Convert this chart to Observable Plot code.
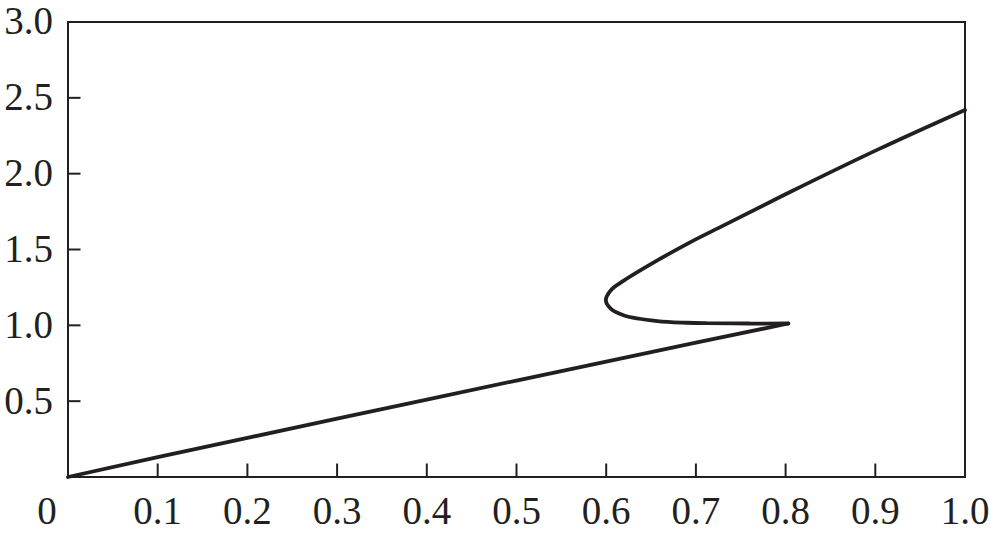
<!DOCTYPE html>
<html>
<head>
<meta charset="utf-8">
<script src="https://cdn.jsdelivr.net/npm/d3@7"></script>
<script src="https://cdn.jsdelivr.net/npm/@observablehq/plot@0.6"></script>
<style>
  html, body { margin: 0; padding: 0; background: #fff; }
</style>
</head>
<body>
<div id="chart"></div>
<script>
// Lower branch (straight rise up to the fold tip)
const lowerX = [0, 0.1, 0.2, 0.3, 0.4, 0.5, 0.6, 0.7, 0.803];
const lowerY = [0, 0.131, 0.258, 0.385, 0.51, 0.636, 0.761, 0.886, 1.012];
// Upper branch (from the tip, back through the turning point, up to x = 1)
const upperX = [0.803, 0.76, 0.712, 0.69, 0.657, 0.62, 0.605, 0.5996, 0.605, 0.62, 0.657, 0.694, 0.731, 0.805, 0.905, 1.0];
const upperY = [1.012, 1.012, 1.014, 1.017, 1.028, 1.065, 1.11, 1.165, 1.23, 1.296, 1.428, 1.549, 1.659, 1.879, 2.165, 2.42];
// Tick values
const xTicks = [0.1, 0.2, 0.3, 0.4, 0.5, 0.6, 0.7, 0.8, 0.9, 1.0];
const yTicks = [0.5, 1.0, 1.5, 2.0, 2.5, 3.0];

const lower = lowerX.map((x, i) => ({x, y: lowerY[i]}));
const upper = upperX.map((x, i) => ({x, y: upperY[i]}));

const W = 991, H = 536;
const mL = 67.5, mR = 26.5, mT = 21.5, mB = 59.5;
const ink = "#231f20";
const tickLen = 13;
const fmt = d3.format(".1f");

const chart = Plot.plot({
  width: W,
  height: H,
  marginLeft: mL,
  marginRight: mR,
  marginTop: mT,
  marginBottom: mB,
  style: {
    fontFamily: "'Liberation Serif', 'Times New Roman', serif",
    fontSize: "39px",
    color: ink,
    background: "#fff",
    overflow: "visible"
  },
  x: {domain: [0, 1]},
  y: {domain: [0, 3]},
  marks: [
    // inward tick marks
    Plot.tickX(xTicks, {x: d => d, stroke: ink, strokeWidth: 2, insetTop: H - mT - mB - tickLen}),
    Plot.tickY(yTicks, {y: d => d, stroke: ink, strokeWidth: 2, insetRight: W - mL - mR - tickLen}),
    // axis labels
    Plot.axisX(xTicks, {tickSize: 0, tickPadding: 19, tickFormat: fmt, label: null, fill: ink}),
    Plot.axisX([0], {tickSize: 0, tickPadding: 19, tickFormat: d => "0", dx: -21, label: null, fill: ink}),
    Plot.axisY(yTicks, {tickSize: 0, tickPadding: 15, tickFormat: fmt, label: null, fill: ink}),
    Plot.frame({stroke: ink, strokeWidth: 2}),
    Plot.line(lower, {x: "x", y: "y", stroke: ink, strokeWidth: 3.8, curve: "linear"}),
    Plot.line(upper, {x: "x", y: "y", stroke: ink, strokeWidth: 3.8, curve: "catmull-rom", strokeLinejoin: "miter"})
  ]
});
document.getElementById("chart").appendChild(chart);
</script>
</body>
</html>
